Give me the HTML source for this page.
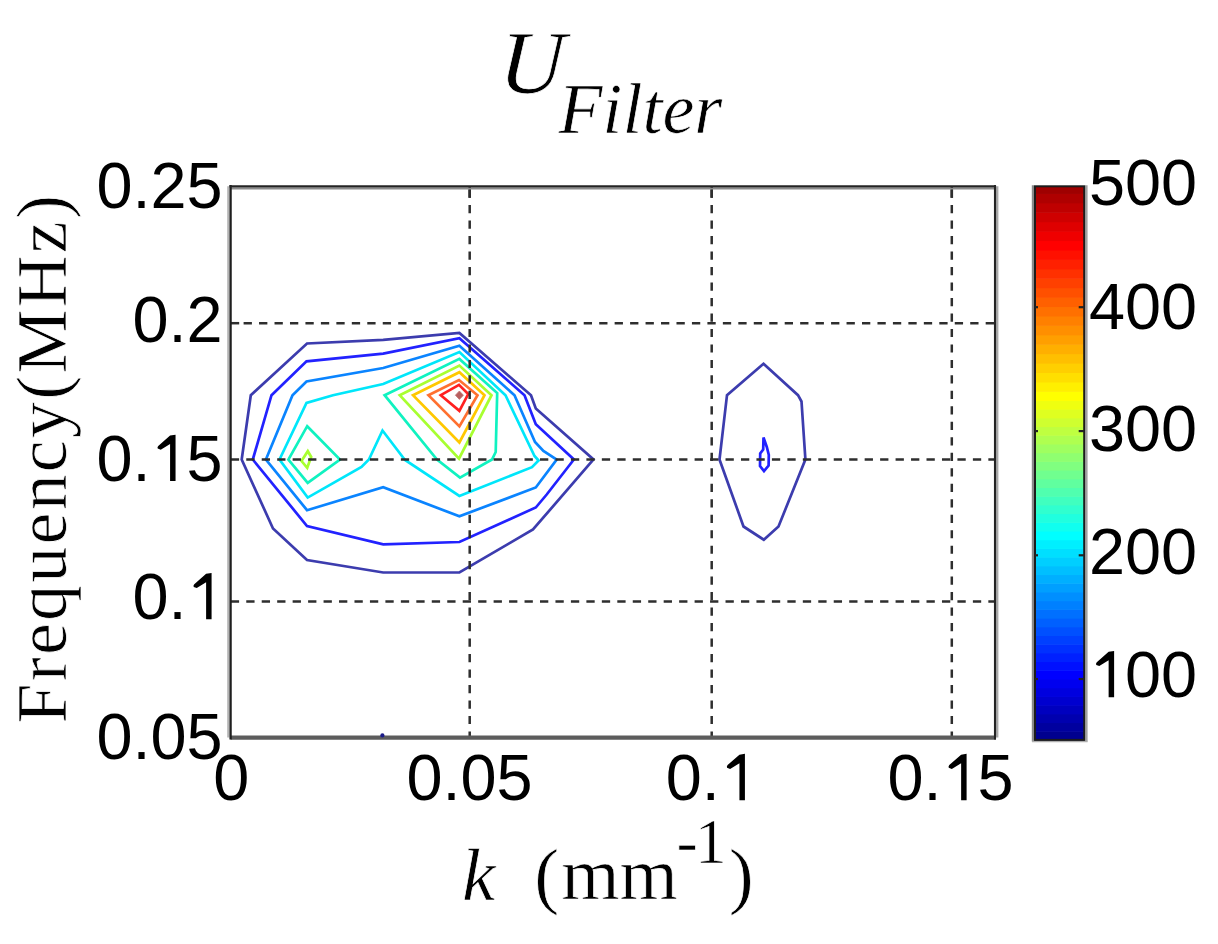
<!DOCTYPE html><html><head><meta charset="utf-8"><style>html,body{margin:0;padding:0;background:#fff;overflow:hidden}svg{display:block;filter:blur(0.6px)}.t{font-family:"Liberation Sans",sans-serif;font-size:64.8px;fill:#000}.s{font-family:"Liberation Serif",serif;fill:#000;stroke:#fff;stroke-width:0.7px}</style></head><body>
<svg width="1218" height="944" viewBox="0 0 1218 944">
<rect x="0" y="0" width="1218" height="944" fill="#fff"/>
<path d="M241.7,459.5 L250.8,395.2 L307.0,343.5 L383.2,339.8 L459.4,333.0 L531.0,395.2 L535.8,408.5 L593.5,459.5 L533.0,529.5 L459.4,572.5 L383.2,572.5 L307.0,560.0 L273.0,528.5 Z" fill="none" stroke="#3c3cae" stroke-width="2.7" stroke-linejoin="miter" stroke-miterlimit="3"/>
<path d="M252.8,459.5 L271.5,395.2 L306.5,361.3 L383.2,353.6 L459.4,338.3 L524.5,395.2 L535.8,424.3 L573.9,459.5 L546.7,494.5 L535.8,507.5 L459.4,542.0 L383.2,544.3 L307.0,526.0 Z" fill="none" stroke="#2222ff" stroke-width="2.7" stroke-linejoin="miter" stroke-miterlimit="3"/>
<path d="M265.9,459.5 L292.5,395.2 L306.5,381.5 L383.2,368.0 L459.4,345.7 L514.5,395.2 L535.0,442.0 L543.4,451.0 L556.7,459.5 L535.8,487.5 L459.4,516.3 L383.2,487.3 L307.0,510.2 Z" fill="none" stroke="#0a84ff" stroke-width="2.7" stroke-linejoin="miter" stroke-miterlimit="3"/>
<path d="M279.5,459.5 L306.5,403.0 L333.0,395.2 L383.2,384.0 L459.4,352.0 L505.5,395.2 L534.5,456.0 L538.6,460.5 L532.0,467.2 L459.4,496.0 L405.0,460.0 L382.5,430.5 L368.9,459.5 L361.5,466.9 L307.7,497.6 Z" fill="none" stroke="#00e6fa" stroke-width="2.7" stroke-linejoin="miter" stroke-miterlimit="3"/>
<path d="M307.2,426.2 L340.0,459.5 L307.7,482.8 L288.4,459.5 Z" fill="none" stroke="#10f2c0" stroke-width="2.7" stroke-linejoin="miter" stroke-miterlimit="3"/>
<path d="M384.6,395.2 L459.4,358.9 L497.2,393.0 L495.7,452.0 L492.0,459.5 L460.0,477.6 L437.0,459.5 Z" fill="none" stroke="#10f2c0" stroke-width="2.7" stroke-linejoin="miter" stroke-miterlimit="3"/>
<path d="M301.5,461.0 L307.8,451.2 L311.2,457.0 L307.2,467.8 Z" fill="none" stroke="#a8ff30" stroke-width="2.7" stroke-linejoin="miter" stroke-miterlimit="3"/>
<path d="M399.7,395.2 L459.4,365.6 L491.5,395.2 L459.0,458.6 Z" fill="none" stroke="#a8ff30" stroke-width="2.7" stroke-linejoin="miter" stroke-miterlimit="3"/>
<path d="M413.0,395.2 L459.4,372.2 L484.5,395.2 L459.4,442.5 Z" fill="none" stroke="#ffc800" stroke-width="2.7" stroke-linejoin="miter" stroke-miterlimit="3"/>
<path d="M428.4,395.2 L459.0,380.0 L477.5,395.2 L459.4,426.4 Z" fill="none" stroke="#ff7030" stroke-width="2.7" stroke-linejoin="miter" stroke-miterlimit="3"/>
<path d="M440.8,395.2 L459.0,384.9 L468.2,394.0 L459.4,410.9 Z" fill="none" stroke="#ff2020" stroke-width="2.7" stroke-linejoin="miter" stroke-miterlimit="3"/>
<path d="M763.5,363.8 L798.0,395.2 L801.5,401.5 L805.4,459.5 L778.5,526.5 L763.8,539.7 L743.5,526.5 L719.5,459.5 L727.0,395.2 Z" fill="none" stroke="#3c3cae" stroke-width="2.7" stroke-linejoin="miter" stroke-miterlimit="3"/>
<path d="M763.5,437.5 L766.8,447.0 L768.8,455.0 L768.6,465.5 L764.0,471.0 L760.0,466.0 L760.2,453.5 L763.2,449.5 Z" fill="none" stroke="#2222ff" stroke-width="2.7" stroke-linejoin="miter" stroke-miterlimit="3"/>
<path d="M455.4,395.2 L459.4,391.0 L463.4,395.2 L459.4,399.4 Z" fill="#b86060" stroke="#c07070" stroke-width="0.8"/>
<line x1="469.7" y1="189.6" x2="469.7" y2="737.6" stroke="#2e2e2e" stroke-width="2.5" fill="none" stroke-dasharray="8.2 7.28"/>
<line x1="469.7" y1="186.3" x2="469.7" y2="197.8" stroke="#2e2e2e" stroke-width="2.5" fill="none"/>
<line x1="711.7" y1="189.6" x2="711.7" y2="737.6" stroke="#2e2e2e" stroke-width="2.5" fill="none" stroke-dasharray="8.2 7.28"/>
<line x1="711.7" y1="186.3" x2="711.7" y2="197.8" stroke="#2e2e2e" stroke-width="2.5" fill="none"/>
<line x1="951.8" y1="189.6" x2="951.8" y2="737.6" stroke="#2e2e2e" stroke-width="2.5" fill="none" stroke-dasharray="8.2 7.28"/>
<line x1="951.8" y1="186.3" x2="951.8" y2="197.8" stroke="#2e2e2e" stroke-width="2.5" fill="none"/>
<line x1="243.6" y1="323.2" x2="995.0" y2="323.2" stroke="#2e2e2e" stroke-width="2.5" fill="none" stroke-dasharray="8.3 7.16"/>
<line x1="230.8" y1="459.5" x2="995.0" y2="459.5" stroke="#2e2e2e" stroke-width="2.5" fill="none" stroke-dasharray="8.3 7.16"/>
<line x1="230.8" y1="601.5" x2="995.0" y2="601.5" stroke="#2e2e2e" stroke-width="2.5" fill="none" stroke-dasharray="8.3 7.16"/>
<line x1="230.6" y1="323.2" x2="239.2" y2="323.2" stroke="#2e2e2e" stroke-width="2.5" fill="none"/>
<line x1="228.3" y1="186.3" x2="228.3" y2="737.6" stroke="#b4b4b4" stroke-width="2.2"/>
<line x1="997.2" y1="186.3" x2="997.2" y2="737.6" stroke="#a8a8a8" stroke-width="2.4"/>
<line x1="230.6" y1="188.5" x2="995.0" y2="188.5" stroke="#8c8c8c" stroke-width="2.0"/>
<line x1="230.6" y1="737.6" x2="996.0" y2="737.6" stroke="#5c5c5c" stroke-width="4.2"/>
<line x1="230.6" y1="185.10000000000002" x2="230.6" y2="739.6" stroke="#1e1e1e" stroke-width="2.3"/>
<line x1="995.0" y1="185.10000000000002" x2="995.0" y2="739.6" stroke="#242424" stroke-width="2.1"/>
<line x1="229.5" y1="186.3" x2="996.0" y2="186.3" stroke="#242424" stroke-width="2.3"/>
<circle cx="382.4" cy="735.4" r="2.1" fill="#1c1c8a"/>
<rect x="1035.0" y="731.19" width="49.2" height="9.31" fill="#00008f"/>
<rect x="1035.0" y="722.49" width="49.2" height="9.31" fill="#00009f"/>
<rect x="1035.0" y="713.78" width="49.2" height="9.31" fill="#0000af"/>
<rect x="1035.0" y="705.07" width="49.2" height="9.31" fill="#0000bf"/>
<rect x="1035.0" y="696.37" width="49.2" height="9.31" fill="#0000cf"/>
<rect x="1035.0" y="687.66" width="49.2" height="9.31" fill="#0000df"/>
<rect x="1035.0" y="678.96" width="49.2" height="9.31" fill="#0000ef"/>
<rect x="1035.0" y="670.25" width="49.2" height="9.31" fill="#0000ff"/>
<rect x="1035.0" y="661.54" width="49.2" height="9.31" fill="#0010ff"/>
<rect x="1035.0" y="652.84" width="49.2" height="9.31" fill="#0020ff"/>
<rect x="1035.0" y="644.13" width="49.2" height="9.31" fill="#0030ff"/>
<rect x="1035.0" y="635.42" width="49.2" height="9.31" fill="#0040ff"/>
<rect x="1035.0" y="626.72" width="49.2" height="9.31" fill="#0050ff"/>
<rect x="1035.0" y="618.01" width="49.2" height="9.31" fill="#0060ff"/>
<rect x="1035.0" y="609.31" width="49.2" height="9.31" fill="#0070ff"/>
<rect x="1035.0" y="600.60" width="49.2" height="9.31" fill="#0080ff"/>
<rect x="1035.0" y="591.89" width="49.2" height="9.31" fill="#008fff"/>
<rect x="1035.0" y="583.19" width="49.2" height="9.31" fill="#009fff"/>
<rect x="1035.0" y="574.48" width="49.2" height="9.31" fill="#00afff"/>
<rect x="1035.0" y="565.77" width="49.2" height="9.31" fill="#00bfff"/>
<rect x="1035.0" y="557.07" width="49.2" height="9.31" fill="#00cfff"/>
<rect x="1035.0" y="548.36" width="49.2" height="9.31" fill="#00dfff"/>
<rect x="1035.0" y="539.65" width="49.2" height="9.31" fill="#00efff"/>
<rect x="1035.0" y="530.95" width="49.2" height="9.31" fill="#00ffff"/>
<rect x="1035.0" y="522.24" width="49.2" height="9.31" fill="#10ffef"/>
<rect x="1035.0" y="513.54" width="49.2" height="9.31" fill="#20ffdf"/>
<rect x="1035.0" y="504.83" width="49.2" height="9.31" fill="#30ffcf"/>
<rect x="1035.0" y="496.12" width="49.2" height="9.31" fill="#40ffbf"/>
<rect x="1035.0" y="487.42" width="49.2" height="9.31" fill="#50ffaf"/>
<rect x="1035.0" y="478.71" width="49.2" height="9.31" fill="#60ff9f"/>
<rect x="1035.0" y="470.00" width="49.2" height="9.31" fill="#70ff8f"/>
<rect x="1035.0" y="461.30" width="49.2" height="9.31" fill="#80ff80"/>
<rect x="1035.0" y="452.59" width="49.2" height="9.31" fill="#8fff70"/>
<rect x="1035.0" y="443.88" width="49.2" height="9.31" fill="#9fff60"/>
<rect x="1035.0" y="435.18" width="49.2" height="9.31" fill="#afff50"/>
<rect x="1035.0" y="426.47" width="49.2" height="9.31" fill="#bfff40"/>
<rect x="1035.0" y="417.77" width="49.2" height="9.31" fill="#cfff30"/>
<rect x="1035.0" y="409.06" width="49.2" height="9.31" fill="#dfff20"/>
<rect x="1035.0" y="400.35" width="49.2" height="9.31" fill="#efff10"/>
<rect x="1035.0" y="391.29" width="49.2" height="9.67" fill="#ffff00"/>
<rect x="1035.0" y="381.86" width="49.2" height="10.02" fill="#ffef00"/>
<rect x="1035.0" y="372.44" width="49.2" height="10.02" fill="#ffdf00"/>
<rect x="1035.0" y="363.01" width="49.2" height="10.02" fill="#ffcf00"/>
<rect x="1035.0" y="353.59" width="49.2" height="10.02" fill="#ffbf00"/>
<rect x="1035.0" y="344.16" width="49.2" height="10.02" fill="#ffaf00"/>
<rect x="1035.0" y="334.74" width="49.2" height="10.02" fill="#ff9f00"/>
<rect x="1035.0" y="325.31" width="49.2" height="10.02" fill="#ff8f00"/>
<rect x="1035.0" y="315.89" width="49.2" height="10.02" fill="#ff8000"/>
<rect x="1035.0" y="306.47" width="49.2" height="10.02" fill="#ff7000"/>
<rect x="1035.0" y="297.04" width="49.2" height="10.02" fill="#ff6000"/>
<rect x="1035.0" y="287.62" width="49.2" height="10.02" fill="#ff5000"/>
<rect x="1035.0" y="278.19" width="49.2" height="10.02" fill="#ff4000"/>
<rect x="1035.0" y="268.77" width="49.2" height="10.02" fill="#ff3000"/>
<rect x="1035.0" y="259.34" width="49.2" height="10.02" fill="#ff2000"/>
<rect x="1035.0" y="249.92" width="49.2" height="10.02" fill="#ff1000"/>
<rect x="1035.0" y="240.49" width="49.2" height="10.02" fill="#ff0000"/>
<rect x="1035.0" y="231.07" width="49.2" height="10.02" fill="#ef0000"/>
<rect x="1035.0" y="221.64" width="49.2" height="10.02" fill="#df0000"/>
<rect x="1035.0" y="212.22" width="49.2" height="10.02" fill="#cf0000"/>
<rect x="1035.0" y="202.79" width="49.2" height="10.02" fill="#bf0000"/>
<rect x="1035.0" y="193.37" width="49.2" height="10.02" fill="#af0000"/>
<rect x="1035.0" y="186.30" width="49.2" height="7.67" fill="#9f0000"/>
<line x1="1032.9" y1="185.3" x2="1032.9" y2="741.4" stroke="#8a8a8a" stroke-width="2.2"/>
<line x1="1086.4" y1="185.3" x2="1086.4" y2="741.4" stroke="#a2a2a2" stroke-width="2.4"/>
<line x1="1032.0" y1="741.5" x2="1087.6000000000001" y2="741.5" stroke="#b0b0b0" stroke-width="1.4"/>
<rect x="1035.0" y="186.3" width="49.2" height="553.6" fill="none" stroke="#1c1c1c" stroke-width="2.0"/>
<line x1="1035.0" y1="307.2" x2="1038.0" y2="307.2" stroke="#222" stroke-width="2.2"/>
<line x1="1078.7" y1="307.2" x2="1084.2" y2="307.2" stroke="#222" stroke-width="2.2"/>
<line x1="1035.0" y1="431.1" x2="1038.0" y2="431.1" stroke="#222" stroke-width="2.2"/>
<line x1="1078.7" y1="431.1" x2="1084.2" y2="431.1" stroke="#222" stroke-width="2.2"/>
<line x1="1035.0" y1="555.3" x2="1038.0" y2="555.3" stroke="#222" stroke-width="2.2"/>
<line x1="1078.7" y1="555.3" x2="1084.2" y2="555.3" stroke="#222" stroke-width="2.2"/>
<line x1="1035.0" y1="679.0" x2="1038.0" y2="679.0" stroke="#222" stroke-width="2.2"/>
<line x1="1078.7" y1="679.0" x2="1084.2" y2="679.0" stroke="#222" stroke-width="2.2"/>
<text class="t" x="96.40" y="207.5">0.25</text>
<text class="t" x="132.43" y="341.8">0.2</text>
<text class="t" x="96.40" y="481.0">0.</text>
<polygon points="175.55,434.63 175.55,481.00 170.08,481.00 170.08,443.93 160.75,449.70 157.70,448.60 157.51,447.30 158.22,445.88 170.08,435.54" fill="#000"/>
<text class="t" x="186.47" y="481.0">5</text>
<text class="t" x="132.43" y="619.3">0.</text>
<polygon points="211.58,572.93 211.58,619.30 206.11,619.30 206.11,582.23 196.77,588.00 193.73,586.90 193.53,585.60 194.25,584.18 206.11,573.84" fill="#000"/>
<text class="t" x="96.40" y="759.1">0.05</text>
<text class="t" x="213.29" y="800.2">0</text>
<text class="t" x="406.45" y="800.2">0.05</text>
<text class="t" x="665.76" y="800.2">0.</text>
<polygon points="744.92,753.83 744.92,800.20 739.44,800.20 739.44,763.13 730.11,768.90 727.06,767.80 726.87,766.50 727.58,765.08 739.44,754.74" fill="#000"/>
<text class="t" x="887.45" y="800.2">0.</text>
<polygon points="966.60,753.83 966.60,800.20 961.13,800.20 961.13,763.13 951.80,768.90 948.75,767.80 948.56,766.50 949.27,765.08 961.13,754.74" fill="#000"/>
<text class="t" x="977.52" y="800.2">5</text>
<text class="t" x="1089.00" y="204.8">500</text>
<text class="t" x="1089.00" y="329.3">400</text>
<text class="t" x="1089.00" y="451.3">300</text>
<text class="t" x="1089.00" y="574.3">200</text>
<polygon points="1114.11,650.93 1114.11,697.30 1108.63,697.30 1108.63,660.23 1099.30,666.00 1096.26,664.90 1096.06,663.60 1096.78,662.18 1108.63,651.84" fill="#000"/>
<text class="t" x="1125.03" y="697.3">00</text>
<text class="s" x="499.5" y="92.8" font-style="italic" font-size="90" transform="translate(3.3,0) skewX(-3)">U</text>
<text class="s" x="558.4" y="133.2" font-style="italic" font-size="72">Filter</text>
<text class="s" x="462" y="900.3" font-size="75" font-style="italic">k</text>
<text class="s" x="534.2" y="900.3" font-size="75">(</text>
<text class="s" x="561.2" y="899.3" font-size="75">mm</text>
<text class="s" x="676.5" y="863" font-size="64">-<tspan dx="-3">1</tspan></text>
<text class="s" x="728.7" y="900.3" font-size="75">)</text>
<text class="s" x="0" y="0" font-size="72" textLength="528.5" lengthAdjust="spacing" transform="translate(66,723.5) rotate(-90)">Frequency(MHz)</text>
</svg></body></html>
